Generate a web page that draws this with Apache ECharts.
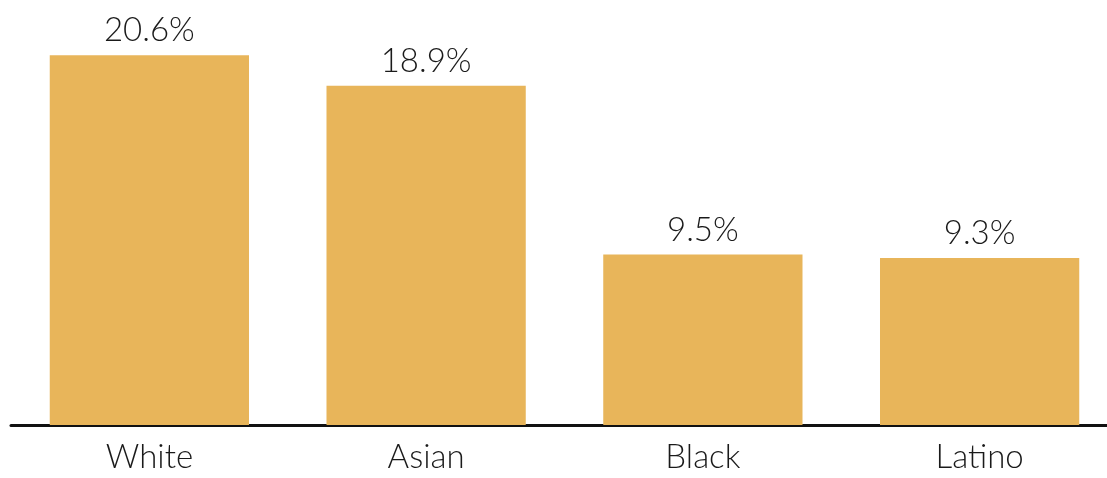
<!DOCTYPE html>
<html>
<head>
<meta charset="utf-8">
<script src="https://cdn.jsdelivr.net/npm/echarts@6/dist/echarts.min.js"></script>
<style>
  html, body { margin: 0; padding: 0; background: #ffffff; overflow: hidden; }
  #chart { width: 1118px; height: 478px; }
</style>
</head>
<body>
<div id="chart"></div>
<script>
// Share of group, by race/ethnicity
const categories = ['White', 'Asian', 'Black', 'Latino'];
const values = [20.6, 18.9, 9.5, 9.3];

const chart = echarts.init(document.getElementById('chart'), null, { renderer: 'canvas' });

chart.setOption({
  animation: false,
  backgroundColor: '#ffffff',
  // plot area runs slightly past the right page edge so the baseline bleeds off
  grid: { left: 11, right: 0, top: 30, bottom: 53, containLabel: false },
  xAxis: {
    type: 'category',
    data: categories,
    axisLine: { show: true, lineStyle: { color: '#111111', width: 3 } },
    axisTick: { show: false },
    axisLabel: {
      color: '#1a1a1a',
      fontFamily: 'Lato, "Open Sans", sans-serif',
      fontWeight: 300,
      fontSize: 33,
      margin: 16
    }
  },
  yAxis: {
    type: 'value',
    min: 0,
    max: 22,
    show: false,
    splitLine: { show: false }
  },
  series: [{
    type: 'bar',
    data: values,
    barWidth: '72%',
    itemStyle: { color: '#E8B55A' },
    label: {
      show: true,
      position: 'top',
      distance: 8,
      formatter: p => p.value.toFixed(1) + '%',
      color: '#1a1a1a',
      fontFamily: 'Lato, "Open Sans", sans-serif',
      fontWeight: 300,
      fontSize: 33
    }
  }]
});
</script>
</body>
</html>
